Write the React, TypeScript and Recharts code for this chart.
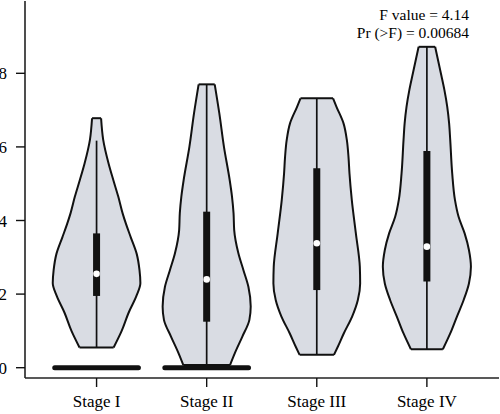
import React from 'react';
import { ComposedChart, Area, XAxis, YAxis, ReferenceLine, ReferenceDot } from 'recharts';

const stages = ['Stage I', 'Stage II', 'Stage III', 'Stage IV'];
const stagePositions = [1, 2, 3, 4];

// violin outlines: [value, half width in stage units]
const stageIShape = [
  [0.55, 0.155], [1.0, 0.228], [1.5, 0.292], [1.95, 0.362], [2.3, 0.398], [2.65, 0.39],
  [3.1, 0.364], [3.55, 0.31], [3.9, 0.268], [4.2, 0.236], [4.65, 0.197], [5.1, 0.152],
  [5.55, 0.109], [6.2, 0.06], [6.78, 0.041],
];
const stageIIShape = [
  [0.07, 0.212], [0.39, 0.255], [0.84, 0.323], [1.3, 0.388], [1.66, 0.4], [2.2, 0.379],
  [2.65, 0.334], [3.11, 0.288], [3.74, 0.25], [4.2, 0.244], [4.65, 0.23], [5.1, 0.209],
  [6.0, 0.157], [6.91, 0.115], [7.7, 0.073],
];
const stageIIIShape = [
  [0.35, 0.156], [0.57, 0.191], [0.93, 0.245], [1.39, 0.321], [1.84, 0.373], [2.29, 0.394],
  [2.74, 0.391], [3.65, 0.355], [4.56, 0.318], [5.28, 0.297], [5.73, 0.288], [6.19, 0.273],
  [6.64, 0.243], [7.09, 0.179], [7.32, 0.148],
];
const stageIVShape = [
  [0.5, 0.145], [0.93, 0.212], [1.39, 0.273], [1.84, 0.334], [2.29, 0.382], [2.74, 0.4],
  [3.2, 0.382], [3.65, 0.343], [4.1, 0.288], [4.56, 0.255], [5.28, 0.23], [6.19, 0.212],
  [6.64, 0.202], [7.09, 0.185], [7.55, 0.159], [8.0, 0.127], [8.72, 0.075],
];
const shapes = [stageIShape, stageIIShape, stageIIIShape, stageIVShape];

const q1 = [1.95, 1.25, 2.11, 2.34];
const q3 = [3.65, 4.24, 5.42, 5.89];
const medians = [2.55, 2.4, 3.38, 3.29];
const whiskerLow = [0.55, 0.07, 0.35, 0.5];
const whiskerHigh = [6.17, 7.7, 7.32, 8.72];

// the zero values drawn as a heavy bar under the first two stages
const zeroBarHalfWidth = [0.38, 0.38, 0, 0];

const yTicks = [0, 2, 4, 6, 8];
const annotation = ['F value = 4.14', 'Pr (>F) = 0.00684'];

const xDomain = [0.35, 4.655];
const yDomain = [-0.28, 9.965];
const font = '"Liberation Serif", "DejaVu Serif", serif';
const ink = '#111';
const violinFill = '#d9dce3';

export default function App() {
  const tickStyle = { fontSize: 17, fill: '#000', fontFamily: font };
  return (
    <div style={{ position: 'absolute', left: 0, top: 0, width: 500, height: 414, background: '#fff' }}>
      <ComposedChart width={500} height={414} layout="vertical" margin={{ top: 1, right: 1, bottom: 0, left: 0 }}>
        <XAxis
          type="number"
          domain={xDomain}
          allowDataOverflow
          ticks={stagePositions}
          interval={0}
          tickFormatter={(v) => stages[v - 1]}
          height={36}
          tickSize={9}
          tickMargin={8}
          tick={tickStyle}
          axisLine={{ stroke: '#222', strokeWidth: 1.6 }}
          tickLine={{ stroke: ink, strokeWidth: 1.4 }}
        />
        <XAxis
          xAxisId="top"
          orientation="top"
          type="number"
          domain={xDomain}
          allowDataOverflow
          height={0}
          tick={false}
          tickLine={false}
          axisLine={{ stroke: '#222', strokeWidth: 1.6 }}
        />
        <YAxis
          type="number"
          dataKey="y"
          domain={yDomain}
          allowDataOverflow
          reversed
          ticks={yTicks}
          interval={0}
          width={25}
          tickSize={9}
          tickMargin={9}
          tick={tickStyle}
          axisLine={{ stroke: '#222', strokeWidth: 1.6 }}
          tickLine={{ stroke: ink, strokeWidth: 1.4 }}
        />
        <YAxis
          yAxisId="right"
          orientation="right"
          type="number"
          domain={yDomain}
          allowDataOverflow
          reversed
          width={0}
          tick={false}
          tickLine={false}
          axisLine={{ stroke: '#222', strokeWidth: 1.6 }}
        />

        {shapes.map((shape, i) => (
          <Area
            key={stages[i]}
            data={shape.map(([y, w]) => ({ y, range: [stagePositions[i] - w, stagePositions[i] + w] }))}
            dataKey="range"
            type="monotone"
            stroke={ink}
            strokeWidth={2}
            fill={violinFill}
            fillOpacity={1}
            dot={false}
            activeDot={false}
            isAnimationActive={false}
          />
        ))}

        {shapes.map((shape, i) => {
          const [yLo, wLo] = shape[0];
          const [yHi, wHi] = shape[shape.length - 1];
          const c = stagePositions[i];
          return [
            <ReferenceLine key={`lo${i}`} segment={[{ x: c - wLo, y: yLo }, { x: c + wLo, y: yLo }]} stroke={ink} strokeWidth={2} />,
            <ReferenceLine key={`hi${i}`} segment={[{ x: c - wHi, y: yHi }, { x: c + wHi, y: yHi }]} stroke={ink} strokeWidth={2} />,
          ];
        })}

        {stagePositions.map((c, i) => (
          <ReferenceLine key={`w${i}`} segment={[{ x: c, y: whiskerLow[i] }, { x: c, y: whiskerHigh[i] }]} stroke={ink} strokeWidth={1.7} />
        ))}
        {stagePositions.map((c, i) => (
          <ReferenceLine key={`b${i}`} segment={[{ x: c, y: q1[i] }, { x: c, y: q3[i] }]} stroke={ink} strokeWidth={7} />
        ))}
        {stagePositions.map((c, i) =>
          zeroBarHalfWidth[i] > 0 ? (
            <ReferenceLine
              key={`z${i}`}
              segment={[{ x: c - zeroBarHalfWidth[i], y: 0 }, { x: c + zeroBarHalfWidth[i], y: 0 }]}
              stroke={ink}
              strokeWidth={5}
              strokeLinecap="round"
            />
          ) : null
        )}
        {stagePositions.map((c, i) => (
          <ReferenceDot key={`m${i}`} x={c} y={medians[i]} r={3.3} fill="#fff" stroke="none" />
        ))}
      </ComposedChart>
      <svg width={500} height={414} style={{ position: 'absolute', left: 0, top: 0, pointerEvents: 'none' }}>
        {annotation.map((line, i) => (
          <text key={line} x={469} y={19.8 + i * 18} textAnchor="end" fontSize={15.5} fontFamily={font} fill="#000">
            {line}
          </text>
        ))}
      </svg>
    </div>
  );
}
